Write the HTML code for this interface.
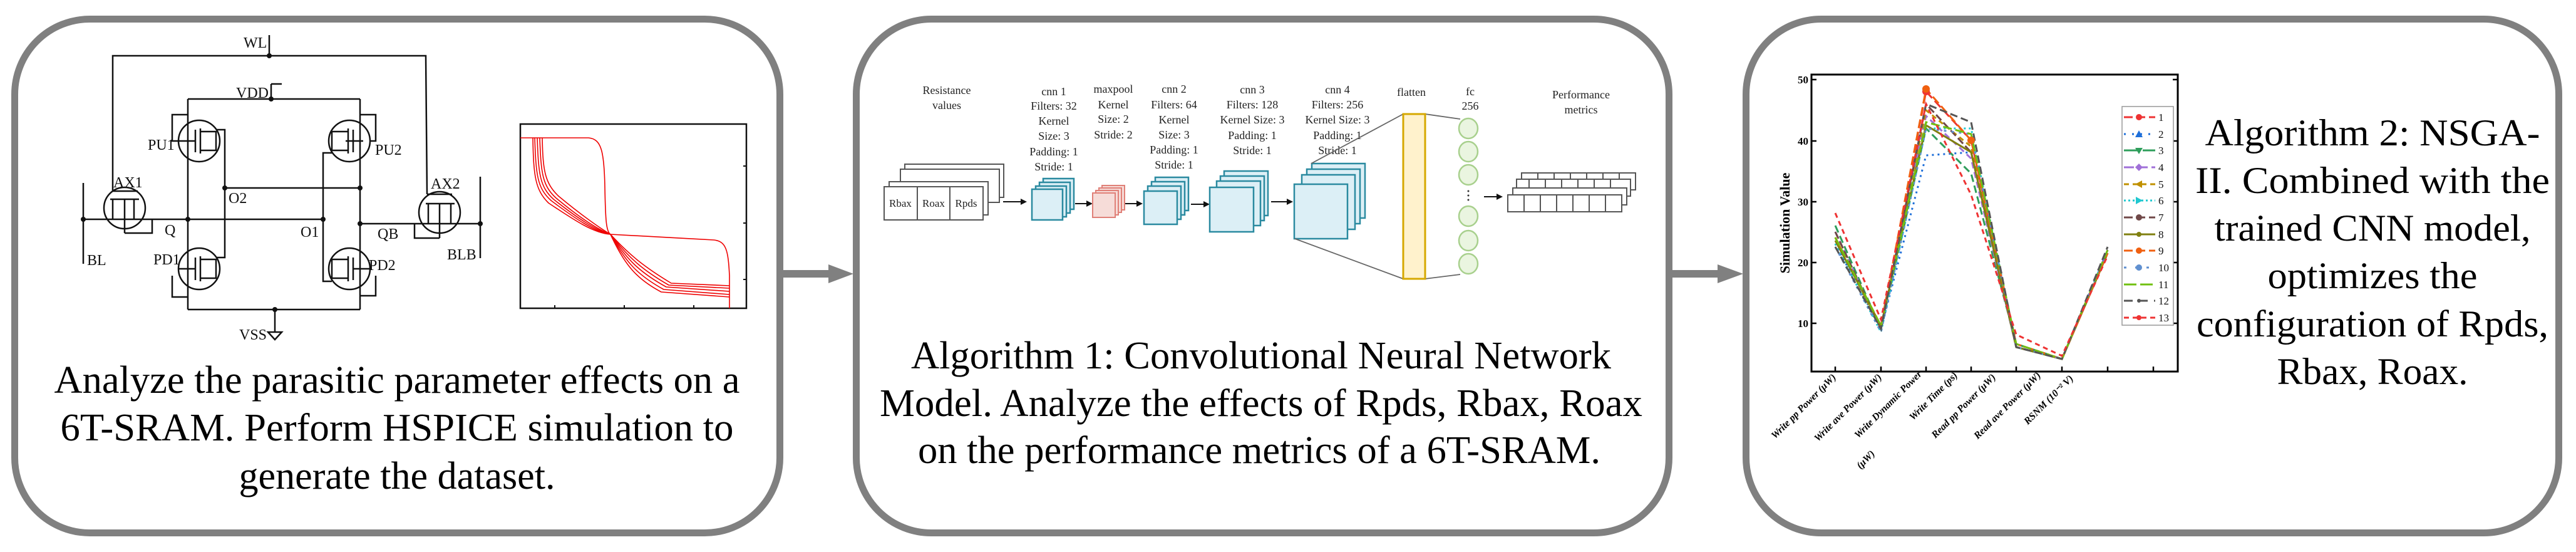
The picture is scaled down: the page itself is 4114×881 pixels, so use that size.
<!DOCTYPE html>
<html><head><meta charset="utf-8"><style>
html,body{margin:0;padding:0;background:#fff;}
svg, svg text{font-family:"Liberation Serif","Times New Roman",Times,serif;}
</style></head><body>
<svg width="4114" height="876" viewBox="0 0 4114 876" xmlns="http://www.w3.org/2000/svg" font-family="Liberation Serif, Times New Roman, serif">
<!-- boxes -->
<g fill="none" stroke="#808080" stroke-width="11">
<rect x="23.5" y="30.5" width="1222" height="820" rx="120"/>
<rect x="1367.5" y="30.5" width="1298" height="820" rx="120"/>
<rect x="2788.5" y="30.5" width="1298" height="820" rx="120"/>
</g>
<!-- arrows -->
<g fill="#808080">
<rect x="1251" y="431" width="74" height="12"/><polygon points="1323,422 1363,437 1323,452"/>
<rect x="2671" y="431" width="74" height="12"/><polygon points="2743,422 2784,437 2743,452"/>
</g>

<!-- ===== Box 1 circuit ===== -->
<g stroke="#111" stroke-width="2.5" fill="none">
<polyline points="180,305 180,89 680,89 682,310"/>
<line x1="430" y1="56" x2="430" y2="89"/>
<line x1="300" y1="158" x2="575" y2="158"/>
<line x1="433" y1="134" x2="433" y2="158"/><line x1="433" y1="134" x2="450" y2="134"/>
<line x1="300" y1="158" x2="300" y2="494"/>
<line x1="575" y1="158" x2="575" y2="494"/>
<line x1="300" y1="494" x2="575" y2="494"/>
<line x1="439" y1="494" x2="439" y2="530"/>
<polygon points="428,530 450,530 439,542"/>
<polyline points="345,207 359,207 359,411 345,411"/>
<polyline points="530,244 516,244 516,449 530,449"/>
<line x1="359" y1="300" x2="575" y2="300"/>
<line x1="133" y1="350" x2="516" y2="350"/>
<line x1="575" y1="357" x2="767" y2="357"/>
<line x1="133" y1="292" x2="133" y2="421"/>
<line x1="767" y1="282" x2="767" y2="412"/>
<circle cx="318" cy="225" r="33"/><circle cx="558" cy="225" r="33"/>
<circle cx="318" cy="429" r="33"/><circle cx="558" cy="429" r="33"/>
<circle cx="199" cy="332" r="33"/><circle cx="702" cy="339" r="33"/>
<line x1="285" y1="225" x2="312" y2="225"/><line x1="312" y1="207" x2="312" y2="243"/>
<line x1="320" y1="205" x2="320" y2="245"/><polyline points="320,210 345,210 345,240 320,240"/>
<polyline points="300,183 275,183 275,225 285,225"/>
<line x1="552" y1="225" x2="580" y2="225"/><line x1="564" y1="207" x2="564" y2="243"/>
<line x1="556" y1="205" x2="556" y2="245"/><polyline points="556,210 530,210 530,240 556,240"/>
<polyline points="575,183 600,183 600,225 590,225"/>
<line x1="285" y1="429" x2="312" y2="429"/><line x1="312" y1="411" x2="312" y2="447"/>
<line x1="320" y1="409" x2="320" y2="449"/><polyline points="320,414 345,414 345,444 320,444"/>
<polyline points="300,474 275,474 275,440"/>
<line x1="564" y1="429" x2="592" y2="429"/><line x1="564" y1="411" x2="564" y2="447"/>
<line x1="556" y1="409" x2="556" y2="449"/><polyline points="556,414 530,414 530,444 556,444"/>
<polyline points="575,472 600,472 600,440"/>
<line x1="180" y1="305" x2="220" y2="305"/><line x1="176" y1="318" x2="222" y2="318"/>
<line x1="180" y1="318" x2="180" y2="350"/><line x1="214" y1="318" x2="214" y2="350"/>
<line x1="199" y1="318" x2="199" y2="372"/><polyline points="199,372 243,372 243,350"/>
<line x1="682" y1="310" x2="722" y2="310"/><line x1="680" y1="325" x2="726" y2="325"/>
<line x1="684" y1="325" x2="684" y2="357"/><line x1="720" y1="325" x2="720" y2="357"/>
<line x1="702" y1="325" x2="702" y2="380"/><polyline points="702,380 662,380 662,357"/>
</g>
<g fill="#111">
<circle cx="430" cy="89" r="4"/><circle cx="433" cy="158" r="4"/><circle cx="439" cy="494" r="4"/>
<circle cx="133" cy="350" r="4"/><circle cx="300" cy="350" r="4"/><circle cx="516" cy="350" r="4"/>
<circle cx="359" cy="300" r="4"/><circle cx="575" cy="300" r="4"/><circle cx="575" cy="357" r="4"/><circle cx="767" cy="357" r="4"/>
</g>
<g font-size="24" fill="#111">
<text x="389" y="76">WL</text><text x="377" y="156">VDD</text><text x="382" y="542">VSS</text>
<text x="236" y="239">PU1</text><text x="599" y="247">PU2</text>
<text x="181" y="299">AX1</text><text x="688" y="301">AX2</text>
<text x="365" y="324">O2</text><text x="263" y="375">Q</text><text x="480" y="378">O1</text>
<text x="603" y="381">QB</text><text x="139" y="423">BL</text><text x="714" y="414">BLB</text>
<text x="245" y="422">PD1</text><text x="589" y="431">PD2</text>
</g>
<rect x="831" y="198" width="361" height="294" fill="none" stroke="#111" stroke-width="2.5"/>
<g stroke="#111" stroke-width="2"><line x1="886" y1="492" x2="886" y2="487"/><line x1="997" y1="492" x2="997" y2="487"/><line x1="1108" y1="492" x2="1108" y2="487"/><line x1="1192" y1="265" x2="1187" y2="265"/><line x1="1192" y1="356" x2="1187" y2="356"/><line x1="1192" y1="446" x2="1187" y2="446"/></g>
<g fill="none" stroke="#e00" stroke-width="1.6">
<path d="M831,220 L940,220 C960,222 965,240 966,300 C967,350 968,370 975,374 L1140,383 C1160,385 1163,400 1165,440 L1165,492"/>
<path d="M854,220 C856,280 858,300 880,320 C920,350 950,370 975,374 C1000,420 1020,440 1060,462 L1165,470"/>
<path d="M858,220 C860,278 862,298 884,318 C922,348 952,368 975,374 C1002,416 1024,436 1064,458 L1165,465"/>
<path d="M862,220 C864,276 866,296 888,316 C924,346 954,366 975,374 C1004,412 1028,432 1068,455 L1165,460"/>
<path d="M851,220 C852,282 855,303 876,324 C918,352 948,372 975,374 C998,424 1018,446 1056,466 L1165,474"/>
<path d="M866,220 C867,272 870,292 892,313 C928,343 958,364 975,374 C1006,408 1032,428 1072,452 L1165,456"/>
</g>
<g font-size="62" fill="#000" text-anchor="middle">
<text x="634" y="627" textLength="1095" lengthAdjust="spacingAndGlyphs">Analyze the parasitic parameter effects on a</text>
<text x="634" y="703" textLength="1075" lengthAdjust="spacingAndGlyphs">6T-SRAM. Perform HSPICE simulation to</text>
<text x="634" y="780" textLength="505" lengthAdjust="spacingAndGlyphs">generate the dataset.</text>
</g>

<!-- ===== Box 2 CNN ===== -->
<g font-size="18" fill="#222" text-anchor="middle">
<text x="1512" y="150">Resistance</text><text x="1512" y="174">values</text>
<text x="1683" y="152">cnn 1</text><text x="1683" y="175">Filters: 32</text><text x="1683" y="199">Kernel</text><text x="1683" y="223">Size: 3</text><text x="1683" y="248">Padding: 1</text><text x="1683" y="272">Stride: 1</text>
<text x="1778" y="148">maxpool</text><text x="1778" y="173">Kernel</text><text x="1778" y="196">Size: 2</text><text x="1778" y="221">Stride: 2</text>
<text x="1875" y="148">cnn 2</text><text x="1875" y="173">Filters: 64</text><text x="1875" y="197">Kernel</text><text x="1875" y="221">Size: 3</text><text x="1875" y="245">Padding: 1</text><text x="1875" y="269">Stride: 1</text>
<text x="2000" y="149">cnn 3</text><text x="2000" y="173">Filters: 128</text><text x="2000" y="197">Kernel Size: 3</text><text x="2000" y="222">Padding: 1</text><text x="2000" y="246">Stride: 1</text>
<text x="2136" y="149">cnn 4</text><text x="2136" y="173">Filters: 256</text><text x="2136" y="197">Kernel Size: 3</text><text x="2136" y="222">Padding: 1</text><text x="2136" y="246">Stride: 1</text>
<text x="2254" y="153">flatten</text>
<text x="2348" y="152">fc</text><text x="2348" y="175">256</text>
<text x="2525" y="157">Performance</text><text x="2525" y="181">metrics</text>
</g>
<g stroke="#555" stroke-width="2" fill="#fff">
<rect x="1445" y="262" width="158" height="53"/><rect x="1438" y="270" width="158" height="53"/><rect x="1420" y="290" width="158" height="53"/>
<rect x="1412" y="298" width="158" height="53"/>
<line x1="1465" y1="298" x2="1465" y2="351"/><line x1="1517" y1="298" x2="1517" y2="351"/>
</g>
<g font-size="17" fill="#222" text-anchor="middle"><text x="1438" y="330">Rbax</text><text x="1491" y="330">Roax</text><text x="1543" y="330">Rpds</text></g>
<g stroke="#111" stroke-width="2"><line x1="1602" y1="322" x2="1630" y2="322"/><line x1="1717" y1="325" x2="1735" y2="325"/><line x1="1795" y1="325" x2="1815" y2="325"/><line x1="1902" y1="326" x2="1922" y2="326"/><line x1="2030" y1="322" x2="2055" y2="322"/><line x1="2370" y1="314" x2="2390" y2="314"/></g>
<g fill="#111"><polygon points="1630,317 1640,322 1630,327"/><polygon points="1735,320 1745,325 1735,330"/><polygon points="1815,320 1825,325 1815,330"/><polygon points="1922,321 1932,326 1922,331"/><polygon points="2055,317 2065,322 2055,327"/><polygon points="2390,309 2400,314 2390,319"/></g>
<g stroke="#2a8aa0" stroke-width="2.5" fill="#dceff6">
<rect x="1666" y="285" width="49" height="49"/><rect x="1660" y="291" width="49" height="49"/><rect x="1654" y="297" width="49" height="49"/><rect x="1648" y="302" width="49" height="49"/>
<rect x="1845" y="283" width="53" height="53"/><rect x="1839" y="290" width="53" height="53"/><rect x="1833" y="297" width="53" height="53"/><rect x="1827" y="305" width="53" height="53"/>
<rect x="1955" y="273" width="70" height="71"/><rect x="1949" y="281" width="70" height="71"/><rect x="1943" y="289" width="70" height="71"/><rect x="1932" y="299" width="70" height="71"/>
<rect x="2095" y="261" width="85" height="87"/><rect x="2087" y="270" width="85" height="87"/><rect x="2079" y="279" width="85" height="87"/><rect x="2067" y="294" width="85" height="87"/>
</g>
<g stroke="#e08078" stroke-width="2" fill="#f6dcd8">
<rect x="1760" y="296" width="36" height="39"/><rect x="1755" y="300" width="36" height="39"/><rect x="1750" y="304" width="36" height="39"/><rect x="1745" y="308" width="36" height="39"/>
</g>
<g stroke="#666" stroke-width="1.8"><line x1="2068" y1="381" x2="2241" y2="445"/><line x1="2094" y1="261" x2="2241" y2="182"/><line x1="2276" y1="182" x2="2332" y2="190"/><line x1="2276" y1="445" x2="2332" y2="438"/></g>
<rect x="2241" y="182" width="35" height="263" fill="#fff2cc" stroke="#d6a800" stroke-width="3"/>
<g fill="#eaf5e0" stroke="#a8d08d" stroke-width="2.5">
<ellipse cx="2345" cy="205" rx="15" ry="16"/><ellipse cx="2345" cy="242" rx="15" ry="16"/><ellipse cx="2345" cy="279" rx="15" ry="16"/>
<ellipse cx="2345" cy="345" rx="15" ry="16"/><ellipse cx="2345" cy="384" rx="15" ry="16"/><ellipse cx="2345" cy="421" rx="15" ry="16"/>
</g>
<g fill="#333"><circle cx="2345" cy="305" r="1.5"/><circle cx="2345" cy="312" r="1.5"/><circle cx="2345" cy="319" r="1.5"/></g>
<g stroke="#555" stroke-width="2" fill="#fff">
<rect x="2430" y="276" width="182" height="27"/><rect x="2422" y="286" width="182" height="27"/><rect x="2416" y="300" width="182" height="27"/><rect x="2408" y="311" width="182" height="27"/>
<path d="M2434,311v27M2460,311v27M2486,311v27M2512,311v27M2538,311v27M2564,311v27M2442,286v14M2468,286v14M2494,286v14M2520,286v14M2546,286v14M2572,286v14M2456,276v10M2482,276v10M2508,276v10M2534,276v10M2560,276v10M2586,276v10" fill="none"/>
</g>
<g font-size="62" fill="#000" text-anchor="middle">
<text x="2014" y="588" textLength="1118" lengthAdjust="spacingAndGlyphs">Algorithm 1: Convolutional Neural Network</text>
<text x="2014" y="664" textLength="1218" lengthAdjust="spacingAndGlyphs">Model. Analyze the effects of Rpds, Rbax, Roax</text>
<text x="2011" y="739" textLength="1090" lengthAdjust="spacingAndGlyphs">on the performance metrics of a 6T-SRAM.</text>
</g>

<!-- ===== Box 3 chart ===== -->
<rect x="2893" y="119" width="585" height="474" fill="none" stroke="#000" stroke-width="3"/>
<g stroke="#000" stroke-width="2.5">
<path d="M2893,127h8M2893,225h8M2893,322h8M2893,419h8M2893,516h8M3478,127h-8M3478,225h-8M3478,322h-8M3478,419h-8M3478,516h-8M2931,593v-8M3004,593v-8M3076,593v-8M3148,593v-8M3220,593v-8M3293,593v-8M3366,593v-8M3439,593v-8"/>
</g>
<g font-size="17" font-weight="bold" text-anchor="end"><text x="2888" y="133">50</text><text x="2888" y="231">40</text><text x="2888" y="328">30</text><text x="2888" y="425">20</text><text x="2888" y="522">10</text></g>
<text transform="translate(2858,356) rotate(-90)" font-size="22" font-weight="bold" text-anchor="middle">Simulation Value</text>
<g font-size="16" font-weight="bold" font-style="italic" text-anchor="end">
<text transform="translate(2933,603) rotate(-45)">Write pp Power (μW)</text>
<text transform="translate(3006,603) rotate(-45)">Write ave Power (μW)</text>
<text transform="translate(3070,598) rotate(-45)">Write Dynamic Power</text>
<text transform="translate(2995,725) rotate(-45)">(μW)</text>
<text transform="translate(3127,600) rotate(-45)">Write Time (ps)</text>
<text transform="translate(3188,603) rotate(-45)">Read pp Power (μW)</text>
<text transform="translate(3260,600) rotate(-45)">Read ave Power (μW)</text>
<text transform="translate(3312,605) rotate(-45)">RSNM (10⁻² V)</text>
</g>
<g fill="none" stroke-width="3">
<polyline stroke="#e33" stroke-dasharray="14,6" points="2931,379 3004,520 3076,146 3148,224 3220,549 3293,573 3366,404"/>
<polyline stroke="#1e6fd9" stroke-dasharray="3,6" points="2931,389 3004,525 3076,248 3148,243 3220,554 3293,573 3366,399"/>
<polyline stroke="#2e9e5b" stroke-dasharray="12,6" points="2931,360 3004,525 3076,205 3148,277 3220,549 3293,573 3366,404"/>
<polyline stroke="#a070d8" stroke-dasharray="10,6" points="2931,370 3004,525 3076,185 3148,253 3220,554 3293,573 3366,399"/>
<polyline stroke="#c09000" stroke-dasharray="8,6" points="2931,379 3004,525 3076,176 3148,234 3220,554 3293,573 3366,404"/>
<polyline stroke="#20c8d0" stroke-dasharray="3,5" points="2931,389 3004,530 3076,205 3148,205 3220,554 3293,573 3366,399"/>
<polyline stroke="#704848" stroke-dasharray="12,5" points="2931,370 3004,525 3076,166 3148,243 3220,554 3293,573 3366,399"/>
<polyline stroke="#808010" points="2931,384 3004,520 3076,200 3148,243 3220,554 3293,573 3366,404"/>
<polyline stroke="#f06010" stroke-dasharray="14,6" points="2931,379 3004,520 3076,142 3148,224 3220,549 3293,573 3366,404"/>
<polyline stroke="#6090d0" stroke-dasharray="4,8" points="2931,394 3004,530 3076,205 3148,214 3220,554 3293,573 3366,399"/>
<polyline stroke="#70c010" stroke-dasharray="14,6" points="2931,379 3004,520 3076,195 3148,214 3220,549 3293,573 3366,399"/>
<polyline stroke="#555" stroke-dasharray="12,6" points="2931,394 3004,525 3076,166 3148,195 3220,554 3293,573 3366,394"/>
<polyline stroke="#e33" stroke-dasharray="8,6" points="2931,340 3004,510 3076,166 3148,311 3220,534 3293,568 3366,408"/>
</g>
<g fill="#e33"><circle cx="3076" cy="146" r="6"/></g><g fill="#f06010"><circle cx="3076" cy="142" r="6"/><circle cx="3148" cy="224" r="6"/></g>
<rect x="3389" y="170" width="82" height="349" fill="#fff" stroke="#999" stroke-width="1.5"/>
<g stroke-width="3" fill="none">
<line x1="3392" y1="187" x2="3442" y2="187" stroke="#e33" stroke-dasharray="14,6"/>
<line x1="3392" y1="214" x2="3442" y2="214" stroke="#1e6fd9" stroke-dasharray="3,10"/>
<line x1="3392" y1="240" x2="3442" y2="240" stroke="#2e9e5b" stroke-dasharray="24,6"/>
<line x1="3392" y1="267" x2="3442" y2="267" stroke="#a070d8" stroke-dasharray="16,6"/>
<line x1="3392" y1="294" x2="3442" y2="294" stroke="#c09000" stroke-dasharray="8,6"/>
<line x1="3392" y1="320" x2="3442" y2="320" stroke="#20c8d0" stroke-dasharray="3,4"/>
<line x1="3392" y1="347" x2="3442" y2="347" stroke="#704848" stroke-dasharray="14,6"/>
<line x1="3392" y1="374" x2="3442" y2="374" stroke="#808010"/>
<line x1="3392" y1="400" x2="3442" y2="400" stroke="#f06010" stroke-dasharray="14,6"/>
<line x1="3392" y1="427" x2="3442" y2="427" stroke="#6090d0" stroke-dasharray="4,14"/>
<line x1="3392" y1="454" x2="3442" y2="454" stroke="#70c010" stroke-dasharray="20,6"/>
<line x1="3392" y1="480" x2="3442" y2="480" stroke="#555" stroke-dasharray="14,10"/>
<line x1="3392" y1="507" x2="3442" y2="507" stroke="#e33" stroke-dasharray="8,6"/>
</g>
<g>
<circle cx="3416" cy="187" r="5" fill="#e33"/><polygon points="3416,208 3422,219 3410,219" fill="#1e6fd9"/><polygon points="3410,236 3422,236 3416,246" fill="#2e9e5b"/>
<polygon points="3416,261 3422,267 3416,273 3410,267" fill="#a070d8"/><polygon points="3410,294 3421,288 3421,300" fill="#c09000"/><polygon points="3422,320 3411,314 3411,326" fill="#20c8d0"/>
<circle cx="3416" cy="347" r="5" fill="#704848"/><circle cx="3416" cy="374" r="4" fill="#808010"/><circle cx="3416" cy="400" r="5" fill="#f06010"/>
<circle cx="3416" cy="427" r="5" fill="#6090d0"/><circle cx="3416" cy="480" r="3" fill="#555"/><circle cx="3416" cy="507" r="4" fill="#e33"/>
</g>
<g font-size="17" fill="#111">
<text x="3447" y="193">1</text><text x="3447" y="220">2</text><text x="3447" y="246">3</text><text x="3447" y="273">4</text><text x="3447" y="300">5</text><text x="3447" y="326">6</text><text x="3447" y="353">7</text><text x="3447" y="380">8</text><text x="3447" y="406">9</text><text x="3447" y="433">10</text><text x="3447" y="460">11</text><text x="3447" y="486">12</text><text x="3447" y="513">13</text>
</g>
<g font-size="60" fill="#000" text-anchor="middle">
<text x="3789" y="232" textLength="535" lengthAdjust="spacingAndGlyphs">Algorithm 2: NSGA-</text>
<text x="3789" y="308" textLength="566" lengthAdjust="spacingAndGlyphs">II.  Combined with the</text>
<text x="3789" y="384" textLength="505" lengthAdjust="spacingAndGlyphs">trained CNN model,</text>
<text x="3789" y="460" textLength="335" lengthAdjust="spacingAndGlyphs">optimizes the</text>
<text x="3789" y="537" textLength="562" lengthAdjust="spacingAndGlyphs">configuration of Rpds,</text>
<text x="3789" y="613" textLength="305" lengthAdjust="spacingAndGlyphs">Rbax, Roax.</text>
</g>
</svg>
</body></html>
